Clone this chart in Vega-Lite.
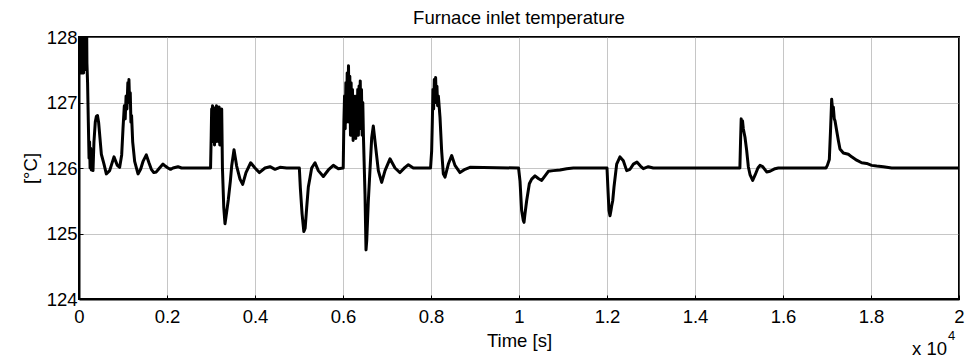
{
"$schema": "https://vega.github.io/schema/vega-lite/v6.json",
"width": 880, "height": 262,
"autosize": {"type": "none"},
"padding": {"left": 79, "top": 37, "right": 9, "bottom": 64},
"background": "white",
"config": {"view": {"stroke": "black", "strokeWidth": 2}, "font": "Liberation Sans"},
"title": {"text": "Furnace inlet temperature", "fontSize": 18.5, "fontWeight": "normal", "font": "Liberation Sans", "color": "black", "offset": 1, "anchor": "middle"},
"data": {"values": [
{"t":0,"v":128.6},{"t":10,"v":127.45},{"t":20,"v":128.4},{"t":32,"v":127.5},{"t":44,"v":128.4},{"t":56,"v":127.45},{"t":68,"v":128.4},{"t":80,"v":127.5},{"t":92,"v":128.4},{"t":104,"v":127.45},{"t":116,"v":128.4},{"t":128,"v":127.5},{"t":140,"v":128.5},{"t":170,"v":128.5},{"t":180,"v":127.6},{"t":195,"v":127.3},{"t":212,"v":126.7},{"t":228,"v":126.15},{"t":240,"v":126.4},{"t":252,"v":126.0},{"t":265,"v":126.3},{"t":280,"v":125.97},{"t":300,"v":126.2},{"t":318,"v":125.96},{"t":340,"v":126.4},{"t":370,"v":126.7},{"t":395,"v":126.79},{"t":420,"v":126.8},{"t":447,"v":126.69},{"t":508,"v":126.21},{"t":568,"v":126.06},{"t":621,"v":125.91},{"t":697,"v":125.96},{"t":795,"v":126.17},{"t":871,"v":126.04},{"t":924,"v":126.01},{"t":970,"v":126.2},{"t":1000,"v":126.6},{"t":1030,"v":126.95},{"t":1050,"v":126.75},{"t":1070,"v":127.1},{"t":1090,"v":126.9},{"t":1110,"v":127.3},{"t":1125,"v":127.05},{"t":1135,"v":127.35},{"t":1150,"v":127.0},{"t":1165,"v":127.15},{"t":1180,"v":126.7},{"t":1195,"v":126.8},{"t":1220,"v":126.4},{"t":1265,"v":126.1},{"t":1341,"v":125.91},{"t":1400,"v":125.98},{"t":1455,"v":126.1},{"t":1530,"v":126.2},{"t":1590,"v":126.08},{"t":1644,"v":125.98},{"t":1700,"v":125.93},{"t":1758,"v":125.94},{"t":1830,"v":126.0},{"t":1909,"v":126.06},{"t":1960,"v":126.03},{"t":2023,"v":126.0},{"t":2080,"v":125.98},{"t":2136,"v":126.0},{"t":2250,"v":126.02},{"t":2330,"v":126.0},{"t":2990,"v":126.0},
{"t":3005,"v":126.5},{"t":3015,"v":126.9},{"t":3025,"v":126.4},{"t":3035,"v":126.95},{"t":3050,"v":126.45},{"t":3065,"v":126.9},{"t":3080,"v":126.35},{"t":3095,"v":126.92},{"t":3110,"v":126.4},{"t":3125,"v":126.95},{"t":3140,"v":126.5},{"t":3155,"v":126.9},{"t":3170,"v":126.4},{"t":3185,"v":126.93},{"t":3200,"v":126.35},{"t":3215,"v":126.9},{"t":3230,"v":126.4},{"t":3243,"v":126.9},{"t":3260,"v":126.0},{"t":3290,"v":125.4},{"t":3318,"v":125.15},{"t":3340,"v":125.25},{"t":3360,"v":125.35},{"t":3394,"v":125.52},{"t":3440,"v":125.8},{"t":3470,"v":126.03},{"t":3523,"v":126.28},{"t":3583,"v":126.03},{"t":3659,"v":125.83},{"t":3720,"v":125.75},{"t":3795,"v":125.93},{"t":3902,"v":126.08},{"t":4000,"v":126.0},{"t":4098,"v":125.93},{"t":4227,"v":126.0},{"t":4341,"v":126.02},{"t":4455,"v":125.98},{"t":4568,"v":126.01},{"t":4720,"v":126.0},{"t":5008,"v":126.0},
{"t":5030,"v":125.7},{"t":5070,"v":125.3},{"t":5110,"v":125.03},{"t":5140,"v":125.08},{"t":5175,"v":125.4},{"t":5212,"v":125.71},{"t":5250,"v":125.85},{"t":5288,"v":126.0},{"t":5364,"v":126.08},{"t":5439,"v":125.96},{"t":5553,"v":125.87},{"t":5667,"v":125.97},{"t":5780,"v":126.04},{"t":5894,"v":125.99},{"t":6005,"v":126.0},
{"t":6020,"v":126.7},{"t":6035,"v":127.1},{"t":6050,"v":126.6},{"t":6065,"v":127.3},{"t":6080,"v":126.7},{"t":6095,"v":127.45},{"t":6110,"v":126.8},{"t":6125,"v":127.56},{"t":6140,"v":126.7},{"t":6155,"v":127.4},{"t":6170,"v":126.5},{"t":6185,"v":127.3},{"t":6200,"v":126.6},{"t":6215,"v":127.2},{"t":6230,"v":126.42},{"t":6245,"v":127.1},{"t":6260,"v":126.5},{"t":6275,"v":127.0},{"t":6290,"v":126.45},{"t":6305,"v":127.1},{"t":6320,"v":126.55},{"t":6335,"v":127.2},{"t":6350,"v":126.5},{"t":6365,"v":127.25},{"t":6380,"v":126.6},{"t":6392,"v":127.33},{"t":6405,"v":126.7},{"t":6420,"v":127.2},{"t":6435,"v":126.5},{"t":6450,"v":127.0},{"t":6465,"v":126.47},{"t":6500,"v":125.6},{"t":6523,"v":124.75},{"t":6540,"v":124.9},{"t":6576,"v":125.5},{"t":6652,"v":126.46},{"t":6689,"v":126.64},{"t":6727,"v":126.41},{"t":6803,"v":125.96},{"t":6879,"v":125.78},{"t":6955,"v":125.96},{"t":7068,"v":126.14},{"t":7182,"v":126.0},{"t":7295,"v":125.93},{"t":7409,"v":126.01},{"t":7485,"v":126.05},{"t":7598,"v":126.0},{"t":7990,"v":126.0},
{"t":8015,"v":126.26},{"t":8030,"v":126.7},{"t":8045,"v":127.2},{"t":8060,"v":126.9},{"t":8075,"v":127.35},{"t":8090,"v":127.0},{"t":8105,"v":127.38},{"t":8120,"v":127.05},{"t":8135,"v":127.25},{"t":8150,"v":126.95},{"t":8167,"v":127.1},{"t":8205,"v":126.77},{"t":8242,"v":126.26},{"t":8280,"v":125.91},{"t":8318,"v":125.86},{"t":8394,"v":126.06},{"t":8470,"v":126.19},{"t":8545,"v":126.04},{"t":8659,"v":125.93},{"t":8773,"v":125.98},{"t":8886,"v":126.01},{"t":9990,"v":126.0},
{"t":10023,"v":125.8},{"t":10060,"v":125.35},{"t":10098,"v":125.2},{"t":10114,"v":125.17},{"t":10136,"v":125.3},{"t":10174,"v":125.5},{"t":10235,"v":125.76},{"t":10288,"v":125.83},{"t":10364,"v":125.88},{"t":10439,"v":125.84},{"t":10515,"v":125.81},{"t":10591,"v":125.88},{"t":10667,"v":125.95},{"t":10780,"v":125.96},{"t":10932,"v":125.97},{"t":11083,"v":125.99},{"t":11235,"v":126.0},{"t":12000,"v":126.0},
{"t":12020,"v":125.7},{"t":12045,"v":125.35},{"t":12068,"v":125.27},{"t":12090,"v":125.35},{"t":12106,"v":125.42},{"t":12130,"v":125.5},{"t":12159,"v":125.71},{"t":12220,"v":126.06},{"t":12295,"v":126.17},{"t":12371,"v":126.11},{"t":12447,"v":125.96},{"t":12523,"v":125.98},{"t":12600,"v":126.06},{"t":12680,"v":126.09},{"t":12760,"v":126.03},{"t":12826,"v":125.99},{"t":12939,"v":126.02},{"t":13053,"v":126.0},{"t":15020,"v":126.0},
{"t":15035,"v":126.4},{"t":15050,"v":126.75},{"t":15065,"v":126.6},{"t":15080,"v":126.72},{"t":15098,"v":126.6},{"t":15136,"v":126.47},{"t":15174,"v":126.27},{"t":15212,"v":126.02},{"t":15250,"v":125.9},{"t":15311,"v":125.81},{"t":15364,"v":125.89},{"t":15430,"v":126.0},{"t":15477,"v":126.04},{"t":15538,"v":126.02},{"t":15629,"v":125.94},{"t":15705,"v":125.95},{"t":15818,"v":125.99},{"t":15894,"v":126.0},{"t":16977,"v":126.0},
{"t":17008,"v":126.04},{"t":17053,"v":126.13},{"t":17083,"v":126.62},{"t":17106,"v":127.05},{"t":17125,"v":126.9},{"t":17144,"v":126.93},{"t":17165,"v":126.75},{"t":17182,"v":126.72},{"t":17220,"v":126.57},{"t":17258,"v":126.42},{"t":17295,"v":126.29},{"t":17371,"v":126.23},{"t":17485,"v":126.21},{"t":17561,"v":126.17},{"t":17674,"v":126.12},{"t":17788,"v":126.08},{"t":17902,"v":126.07},{"t":18015,"v":126.04},{"t":18129,"v":126.03},{"t":18280,"v":126.02},{"t":18470,"v":126.0},{"t":20000,"v":126.0}
]},
"layer": [
{
"mark": {"type": "line", "color": "black", "strokeWidth": 3, "clip": true, "strokeJoin": "round"},
"encoding": {
"x": {"field": "t", "type": "quantitative", "scale": {"domain": [0, 20000], "nice": false, "zero": false},
 "axis": {"orient": "bottom", "values": [0,2000,4000,6000,8000,10000,12000,14000,16000,18000,20000], "labelExpr": "format(datum.value/10000, '~g')", "title": "Time [s]",
  "grid": true, "gridColor": "#8c8c8c", "gridDash": [1,1], "gridWidth": 1,
  "domainColor": "black", "domainWidth": 2, "tickColor": "black", "tickSize": -4, "tickWidth": 1,
  "labelFont": "Liberation Sans", "labelFontSize": 18.5, "labelColor": "black", "labelPadding": 12, "labelFlush": false, "labelOverlap": false,
  "titleFont": "Liberation Sans", "titleFontSize": 18.5, "titleFontWeight": "normal", "titleColor": "black", "titlePadding": 6}},
"y": {"field": "v", "type": "quantitative", "scale": {"domain": [124, 128], "nice": false, "zero": false},
 "axis": {"orient": "left", "values": [124,125,126,127,128], "format": "d", "title": "[°C]",
  "grid": true, "gridColor": "#8c8c8c", "gridDash": [1,1], "gridWidth": 1,
  "domainColor": "black", "domainWidth": 2, "tickColor": "black", "tickSize": -4, "tickWidth": 1,
  "labelFont": "Liberation Sans", "labelFontSize": 18.5, "labelColor": "black", "labelPadding": 6, "labelOverlap": false,
  "titleFont": "Liberation Sans", "titleFontSize": 18.5, "titleFontWeight": "normal", "titleColor": "black", "titlePadding": 6}}
}
},
{
"data": {"values": [{}]},
"mark": {"type": "text", "text": "x 10", "align": "right", "baseline": "alphabetic", "dx": -12, "dy": 56, "fontSize": 18.5, "font": "Liberation Sans", "color": "black"},
"encoding": {"x": {"datum": 20000}, "y": {"datum": 124}}
},
{
"data": {"values": [{}]},
"mark": {"type": "text", "text": "4", "align": "left", "baseline": "alphabetic", "dx": -11, "dy": 41, "fontSize": 13, "font": "Liberation Sans", "color": "black"},
"encoding": {"x": {"datum": 20000}, "y": {"datum": 124}}
}
]
}
